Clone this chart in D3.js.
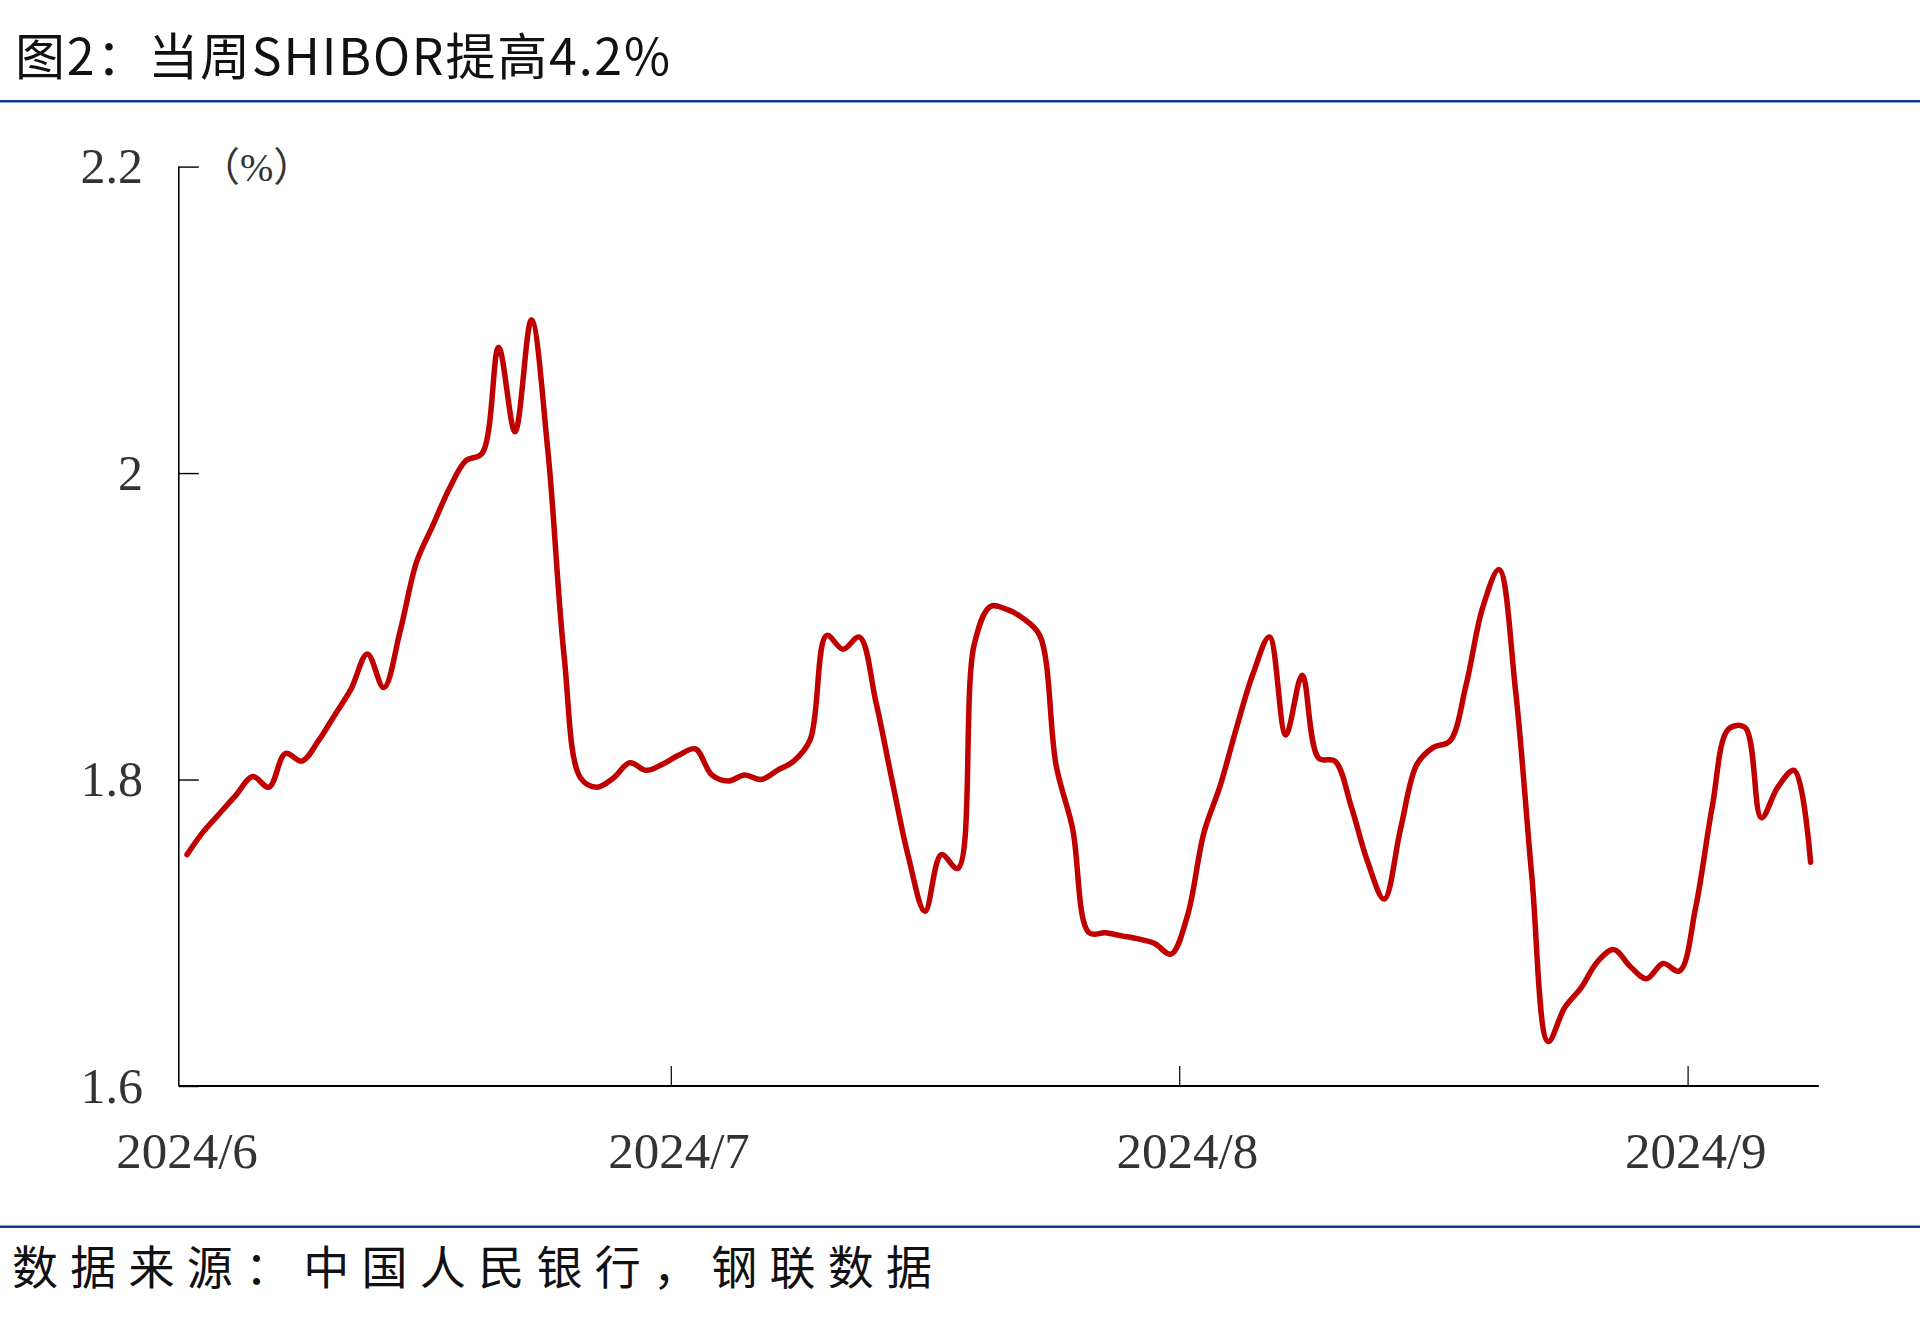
<!DOCTYPE html>
<html>
<head>
<meta charset="utf-8">
<script src="https://cdn.jsdelivr.net/npm/d3@7"></script>
<style>
  html, body { margin: 0; padding: 0; background: #fff; }
  svg { display: block; }
</style>
</head>
<body>
<svg id="chart" width="1920" height="1331"></svg>
<script>
// ---- data ----
const titleText = "图2：当周SHIBOR提高4.2%";
const sourceText = "数据来源：中国人民银行，钢联数据";
const unitLabel = "（%）";
const startDate = "2024-06-01";
const endDate = "2024-09-09";
const monthTicks = ["2024-06-01", "2024-07-01", "2024-08-01", "2024-09-01"];
const monthLabels = ["2024/6", "2024/7", "2024/8", "2024/9"];
const yTicks = [1.6, 1.8, 2.0, 2.2];
const yTickLabels = ["1.6", "1.8", "2", "2.2"];

const juneValues = [1.751, 1.766, 1.778, 1.790, 1.802, 1.795, 1.817, 1.812, 1.825, 1.842,
                    1.859, 1.882, 1.860, 1.897, 1.942, 1.966, 1.990, 2.008, 2.013, 2.082,
                    2.027, 2.100, 2.015, 1.880, 1.801, 1.795, 1.801, 1.811, 1.806, 1.810];
const julyValues = [1.816, 1.820, 1.803, 1.799, 1.803, 1.800, 1.806, 1.812, 1.826, 1.894,
                    1.885, 1.893, 1.851, 1.799, 1.749, 1.714, 1.751, 1.742, 1.888, 1.913,
                    1.911, 1.905, 1.894, 1.809, 1.768, 1.700, 1.700, 1.698, 1.696, 1.693,
                    1.686];
const augustValues = [1.711, 1.765, 1.796, 1.834, 1.869, 1.893, 1.829, 1.868, 1.814, 1.812,
                      1.782, 1.746, 1.722, 1.768, 1.810, 1.821, 1.825, 1.862, 1.912, 1.937,
                      1.859, 1.737, 1.629, 1.651, 1.664, 1.681, 1.689, 1.678, 1.670, 1.680,
                      1.675];
const septemberValues = [1.717, 1.782, 1.833, 1.834, 1.775, 1.795, 1.806, 1.746];

// ---- build ----
const parse = d3.utcParse("%Y-%m-%d");
const allValues = [].concat(juneValues, julyValues, augustValues, septemberValues);
const start = parse(startDate);
const data = allValues.map((v, i) => ({ date: d3.utcDay.offset(start, i), value: v }));

const svg = d3.select("#chart");
const W = 1920, H = 1331;
const plot = { left: 178.8, right: 1818.8, top: 166.6, bottom: 1086 };

const x = d3.scaleUtc().domain([start, parse(endDate)]).range([plot.left, plot.right]);
const y = d3.scaleLinear().domain([1.6, 2.2]).range([plot.bottom, plot.top]);
const halfDay = (x(d3.utcDay.offset(start, 1)) - x(start)) / 2;

// title
svg.append("text")
  .attr("x", 15).attr("y", 75)
  .attr("font-family", "'Noto Sans CJK SC', sans-serif")
  .attr("font-size", 50)
  .attr("fill", "#111")
  .attr("textLength", 655)
  .attr("lengthAdjust", "spacing")
  .text(titleText);

// top & bottom rule lines
svg.append("rect").attr("x", 0).attr("y", 100).attr("width", W).attr("height", 2.5).attr("fill", "#0D3B8C");
svg.append("rect").attr("x", 0).attr("y", 1225.5).attr("width", W).attr("height", 2.5).attr("fill", "#0D3B8C");

// source
svg.append("text")
  .attr("x", 12).attr("y", 1284)
  .attr("font-family", "'Noto Sans CJK SC', sans-serif")
  .attr("font-size", 46)
  .attr("fill", "#111")
  .attr("textLength", 920)
  .attr("lengthAdjust", "spacing")
  .text(sourceText);

// y axis
const yAxis = d3.axisRight(y).tickValues(yTicks).tickSize(20).tickFormat("");
const gy = svg.append("g").attr("transform", `translate(${plot.left},0)`).call(yAxis);
gy.select(".domain").attr("d", `M0,${plot.top}V${plot.bottom}`).attr("stroke", "#000").attr("stroke-width", 1.6);
gy.selectAll(".tick line").attr("stroke", "#000").attr("stroke-width", 1.4);

svg.append("g").selectAll("text").data(yTicks).join("text")
  .attr("x", 143).attr("y", d => y(d) + 16.5)
  .attr("text-anchor", "end")
  .attr("font-family", "'Liberation Serif', 'Times New Roman', serif")
  .attr("font-size", 50)
  .attr("fill", "#333")
  .text((d, i) => yTickLabels[i]);

svg.append("text")
  .attr("x", 200).attr("y", 181)
  .attr("font-family", "'Liberation Serif', 'Noto Sans CJK SC', serif")
  .attr("font-size", 40)
  .attr("fill", "#333")
  .text(unitLabel);

// x axis
const tickDates = monthTicks.map(parse);
const xAxis = d3.axisTop(x).tickValues(tickDates.slice(1)).tickSize(20).tickFormat("");
const gx = svg.append("g").attr("transform", `translate(0,${plot.bottom})`).call(xAxis);
gx.select(".domain").attr("d", `M${plot.left},0H${plot.right}`).attr("stroke", "#000").attr("stroke-width", 2);
gx.selectAll(".tick line").attr("stroke", "#000").attr("stroke-width", 1.2);

svg.append("g").selectAll("text").data(tickDates).join("text")
  .attr("x", d => x(d) + halfDay)
  .attr("y", 1168)
  .attr("text-anchor", "middle")
  .attr("font-family", "'Liberation Serif', 'Times New Roman', serif")
  .attr("font-size", 51)
  .attr("fill", "#333")
  .text((d, i) => monthLabels[i]);

// line
const line = d3.line()
  .x(d => x(d.date) + halfDay)
  .y(d => y(d.value))
  .curve(d3.curveCatmullRom.alpha(0.5));

svg.append("path")
  .datum(data)
  .attr("d", line)
  .attr("fill", "none")
  .attr("stroke", "#C00000")
  .attr("stroke-width", 5.5)
  .attr("stroke-linejoin", "round")
  .attr("stroke-linecap", "round");
</script>
</body>
</html>
